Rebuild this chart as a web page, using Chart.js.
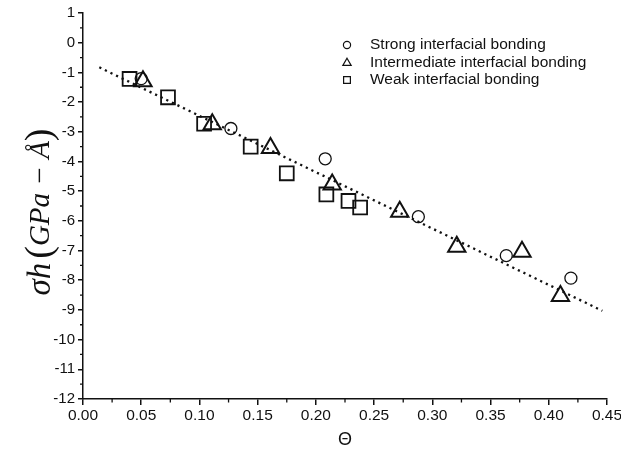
<!DOCTYPE html>
<html>
<head>
<meta charset="utf-8">
<script src="https://cdn.jsdelivr.net/npm/chart.js@4.4.1/dist/chart.umd.min.js"></script>
<style>
  html, body { margin: 0; padding: 0; background: #fff; }
  #wrap { width: 621px; height: 456px; }
</style>
</head>
<body>
<div id="wrap"><canvas id="chart" width="621" height="456"></canvas></div>
<script>
const seriesLabels = ["Strong interfacial bonding", "Intermediate interfacial bonding", "Weak interfacial bonding"];

const strongX = [0.050, 0.127, 0.208, 0.288, 0.3635, 0.419];
const strongY = [-1.21, -2.89, -3.91, -5.86, -7.17, -7.93];

const interX = [0.0515, 0.111, 0.161, 0.214, 0.272, 0.321, 0.377, 0.410];
const interY = [-1.30, -2.75, -3.55, -4.78, -5.69, -6.87, -7.04, -8.53];

const weakX = [0.040, 0.073, 0.104, 0.144, 0.175, 0.209, 0.228, 0.238];
const weakY = [-1.22, -1.84, -2.73, -3.50, -4.40, -5.11, -5.33, -5.55];

// dotted linear fit, end points
const fitX = [0.014, 0.446];
const fitY = [-0.83, -9.03];

const xTickLabels = ["0.00", "0.05", "0.10", "0.15", "0.20", "0.25", "0.30", "0.35", "0.40", "0.45"];
const yTickLabels = ["-12", "-11", "-10", "-9", "-8", "-7", "-6", "-5", "-4", "-3", "-2", "-1", "0", "1"];

const pts = (xs, ys) => xs.map((x, i) => ({x: x, y: ys[i]}));
const INK = "#111";
const SANS = "'Liberation Sans', Arial, sans-serif";
const SERIF = "'Liberation Serif', 'Times New Roman', serif";

// minor ticks, y title, x title and the inset legend
const extras = {
  id: "extras",
  afterDraw(chart) {
    const c = chart.ctx, a = chart.chartArea;
    const xs = chart.scales.x, ys = chart.scales.y;
    c.save();
    c.strokeStyle = INK;
    c.lineWidth = 1.3;
    c.beginPath();
    for (let i = 0; i < xs.ticks.length - 1; i++) {
      const px = xs.getPixelForValue((xs.ticks[i].value + xs.ticks[i + 1].value) / 2);
      c.moveTo(px, a.bottom); c.lineTo(px, a.bottom + 3.5);
    }
    for (let i = 0; i < ys.ticks.length - 1; i++) {
      const py = ys.getPixelForValue((ys.ticks[i].value + ys.ticks[i + 1].value) / 2);
      c.moveTo(a.left, py); c.lineTo(a.left - 3, py);
    }
    c.stroke();

    // x title
    c.fillStyle = INK;
    c.font = "18px " + SANS;
    c.textAlign = "center";
    c.textBaseline = "middle";
    c.fillText("\u0398", (a.left + a.right) / 2, 440);

    // y title, rotated, drawn piece by piece
    const parts = [
      {t: "\u03c3h", f: "italic 33px " + SERIF},
      {t: " ", f: "16px " + SERIF},
      {t: "(", f: "38px " + SERIF},
      {t: "GPa \u2212 \u00c5", f: "italic 29px " + SERIF},
      {t: ")", f: "38px " + SERIF}
    ];
    let total = 0;
    parts.forEach(p => { c.font = p.f; p.w = c.measureText(p.t).width; total += p.w; });
    c.translate(41, 212);
    c.rotate(-Math.PI / 2);
    c.textAlign = "left";
    c.textBaseline = "middle";
    let cx = -total / 2;
    parts.forEach(p => { c.font = p.f; c.fillText(p.t, cx, 0); cx += p.w; });
    c.setTransform(1, 0, 0, 1, 0, 0);

    // legend
    const rows = [45, 63, 80];
    chart.data.datasets.slice(0, 3).forEach((ds, i) => {
      c.lineWidth = 1.2;
      c.strokeStyle = INK;
      c.fillStyle = "rgba(0,0,0,0)";
      Chart.helpers.drawPoint(c, {pointStyle: ds.pointStyle, radius: ds.legendRadius, borderWidth: 1.2}, 347, rows[i]);
      c.font = "15.5px " + SANS;
      c.fillStyle = INK;
      c.textAlign = "left";
      c.textBaseline = "middle";
      c.fillText(ds.label, 370, rows[i]);
    });
    c.restore();
  }
};

new Chart(document.getElementById("chart"), {
  type: "scatter",
  data: {
    datasets: [
      {label: seriesLabels[0], data: pts(strongX, strongY), pointStyle: "circle", pointRadius: 6,
       borderWidth: 1.3, borderColor: INK, backgroundColor: "rgba(0,0,0,0)", legendRadius: 3.6},
      {label: seriesLabels[1], data: pts(interX, interY), pointStyle: "triangle", pointRadius: 10,
       borderWidth: 2, borderColor: INK, backgroundColor: "rgba(0,0,0,0)", legendRadius: 4.8},
      {label: seriesLabels[2], data: pts(weakX, weakY), pointStyle: "rect", pointRadius: 9.8,
       borderWidth: 1.8, borderColor: INK, backgroundColor: "rgba(0,0,0,0)", legendRadius: 4.8},
      {label: "fit", type: "line", data: pts(fitX, fitY), showLine: true, pointRadius: 0,
       borderColor: INK, borderWidth: 2.3, borderDash: [2.2, 4], fill: false}
    ]
  },
  options: {
    responsive: false,
    animation: false,
    events: [],
    layout: {padding: {top: 13, right: 14, left: 0, bottom: 0}},
    plugins: {legend: {display: false}, tooltip: {enabled: false}},
    scales: {
      x: {
        type: "linear", min: 0, max: 0.45,
        border: {display: true, color: INK, width: 1.5},
        grid: {drawOnChartArea: false, drawTicks: true, tickLength: 6, color: INK, lineWidth: 1.5},
        ticks: {stepSize: 0.05, padding: 1, color: INK, font: {family: SANS, size: 15.5},
                maxRotation: 0, autoSkip: false, callback: (v, i) => xTickLabels[i]},
        afterFit: s => { s.height = 57; s.paddingLeft = 0; s.paddingRight = 0; }
      },
      y: {
        type: "linear", min: -12, max: 1,
        border: {display: true, color: INK, width: 1.5},
        grid: {drawOnChartArea: false, drawTicks: true, tickLength: 5, color: INK, lineWidth: 1.5},
        ticks: {stepSize: 1, padding: 3, color: INK, font: {family: SANS, size: 15},
                autoSkip: false, callback: (v, i) => yTickLabels[i]},
        afterFit: s => { s.width = 83; s.paddingTop = 0; s.paddingBottom = 0; }
      }
    }
  },
  plugins: [extras]
});
</script>
</body>
</html>
